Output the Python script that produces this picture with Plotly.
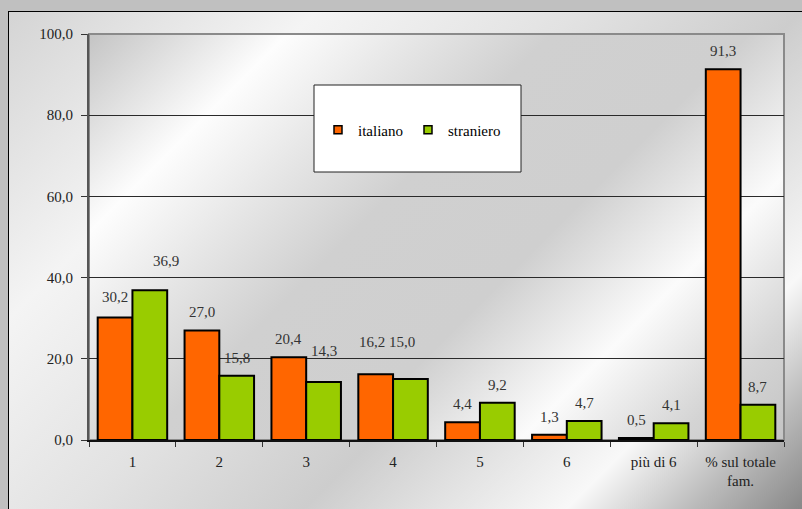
import base64
import plotly.graph_objects as go

# Famiglie per numero di componenti: quota (%) per cittadinanza
categories = ["1", "2", "3", "4", "5", "6", "più di 6", "% sul totale<br>fam."]
italiano = [30.2, 27.0, 20.4, 16.2, 4.4, 1.3, 0.5, 91.3]
straniero = [36.9, 15.8, 14.3, 15.0, 9.2, 4.7, 4.1, 8.7]
y_ticks = [0, 20, 40, 60, 80, 100]

# Extra lift / sideways nudge (px) for value labels placed off the default spot
lift_italiano = [2, 0, 0, 14, 0, 0, 0, 0]
lift_straniero = [11, 0, 13, 19, 0, 0, 0, 0]
nudge_x_italiano = [0, 0, 0, -4, 0, 0, 0, 0]
nudge_x_straniero = [16, 0, 0, -8, 0, 0, 0, 0]

W, H = 802, 509
ML, MR, MT, MB = 89, 18, 34, 69
PW, PH = W - ML - MR, H - MT - MB

FONT = "Times New Roman, Liberation Serif, DejaVu Serif, serif"
ORANGE = "#ff6600"
GREEN = "#99cc00"


def svg_uri(svg):
    return "data:image/svg+xml;base64," + base64.b64encode(svg.encode()).decode()


def stops(spec):
    return "".join(f'<stop offset="{o}" stop-color="{c}"/>' for o, c in spec)


# Chart-area background: framed metallic diagonal gradient
d = (W + H) / 2
paper_svg = (
    f'<svg xmlns="http://www.w3.org/2000/svg" width="{W}" height="{H}" viewBox="0 0 {W} {H}">'
    f'<defs><linearGradient id="g" gradientUnits="userSpaceOnUse" x1="0" y1="0" x2="{d}" y2="{d}">'
    + stops([(0, "#d2d2d2"), (0.25, "#f4f4f4"), (0.45, "#e2e2e2"), (0.62, "#cdcdcd"),
             (0.82, "#f8f8f8"), (0.92, "#b8b8b8"), (1, "#888888")])
    + '</linearGradient></defs>'
    f'<rect width="{W}" height="{H}" fill="#c0c0c0"/>'
    f'<rect x="8.5" y="11.5" width="{W}" height="{H}" fill="url(#g)" stroke="#000" stroke-width="1"/>'
    '</svg>'
)

# Plot-area background: chrome-like gradient with two bright bands
dp = (PW + PH) / 2
plot_svg = (
    f'<svg xmlns="http://www.w3.org/2000/svg" width="{PW}" height="{PH}" viewBox="0 0 {PW} {PH}">'
    f'<defs><linearGradient id="p" gradientUnits="userSpaceOnUse" x1="0" y1="0" x2="{dp}" y2="{dp}">'
    + stops([(0, "#c4c4c4"), (0.18, "#fdfdfd"), (0.3, "#e6e6e6"), (0.42, "#d0d0d0"),
             (0.6, "#cfcfcf"), (0.76, "#fbfbfb"), (0.9, "#d4d4d4"), (1, "#c4c4c4")])
    + '</linearGradient></defs>'
    f'<rect width="{PW}" height="{PH}" fill="url(#p)"/>'
    '</svg>'
)

fig = go.Figure()
series = [("italiano", italiano, ORANGE), ("straniero", straniero, GREEN)]
for name, vals, color in series:
    fig.add_trace(go.Bar(
        x=categories, y=vals, name=name, showlegend=False,
        marker=dict(color=color, line=dict(color="#000000", width=2)),
        hoverinfo="skip",
    ))
# small square swatches for the legend
for name, vals, color in series:
    fig.add_trace(go.Scatter(
        x=[None], y=[None], mode="markers", name=name,
        marker=dict(symbol="square", size=8, color=color,
                    line=dict(color="#000000", width=1.5)),
    ))


def fmt(v):
    return f"{v:.1f}".replace(".", ",")


bar_half = 0.2 * PW / len(categories)
annotations = []
for vals, side, lifts, nudges in [
    (italiano, -1, lift_italiano, nudge_x_italiano),
    (straniero, 1, lift_straniero, nudge_x_straniero),
]:
    for idx, (v, lift, nx) in enumerate(zip(vals, lifts, nudges)):
        # numeric index = category position on the category axis
        annotations.append(dict(
            x=idx, y=v, xref="x", yref="y", text=fmt(v), showarrow=False,
            xanchor="center", yanchor="middle",
            xshift=side * bar_half + nx, yshift=18 + lift,
            font=dict(family=FONT, size=15, color="#333333"),
        ))

fig.update_layout(
    width=W, height=H,
    margin=dict(l=ML, r=MR, t=MT, b=MB, pad=0),
    paper_bgcolor="#c0c0c0",
    plot_bgcolor="rgba(0,0,0,0)",
    barmode="group", bargap=0.2, bargroupgap=0,
    font=dict(family=FONT, size=15, color="#222222"),
    images=[
        dict(source=svg_uri(paper_svg), xref="paper", yref="paper",
             x=-ML / PW, y=1 + MT / PH, sizex=W / PW, sizey=H / PH,
             xanchor="left", yanchor="top", sizing="stretch", layer="below"),
        dict(source=svg_uri(plot_svg), xref="paper", yref="paper",
             x=0, y=1, sizex=1, sizey=1,
             xanchor="left", yanchor="top", sizing="stretch", layer="below"),
    ],
    shapes=[
        # plot-area frame
        dict(type="rect", xref="paper", yref="paper", x0=0, x1=1, y0=0, y1=1,
             line=dict(color="#8a8a8a", width=2), layer="below"),
        # legend box
        dict(type="rect", xref="paper", yref="paper",
             x0=(314 - ML) / PW, x1=(521 - ML) / PW,
             y0=(MT + PH - 172) / PH, y1=(MT + PH - 85) / PH,
             line=dict(color="#222222", width=1), fillcolor="#ffffff", layer="above"),
    ],
    legend=dict(
        orientation="h", x=(412 - ML) / PW, y=(MT + PH - 130) / PH,
        xanchor="center", yanchor="middle", bgcolor="rgba(0,0,0,0)",
        font=dict(family=FONT, size=15, color="#000000"),
        itemclick=False, itemdoubleclick=False,
    ),
    annotations=annotations,
    xaxis=dict(
        type="category", showline=True, linecolor="#111111", linewidth=1.5,
        ticks="outside", tickson="boundaries", ticklen=5, tickcolor="#333333",
        tickfont=dict(family=FONT, size=15, color="#222222"),
        ticklabelstandoff=7, showgrid=False, fixedrange=True,
    ),
    yaxis=dict(
        range=[0, 100], tickvals=y_ticks, tickformat=".1f",
        showline=True, linecolor="#555555", linewidth=2,
        ticks="outside", ticklen=6, tickcolor="#333333",
        showgrid=True, gridcolor="#2a2a2a", gridwidth=1,
        zeroline=False, tickfont=dict(family=FONT, size=15, color="#222222"),
        ticklabelstandoff=5, fixedrange=True,
    ),
    separators=",.",
)

fig.write_html("out.html", config=dict(displayModeBar=False))
